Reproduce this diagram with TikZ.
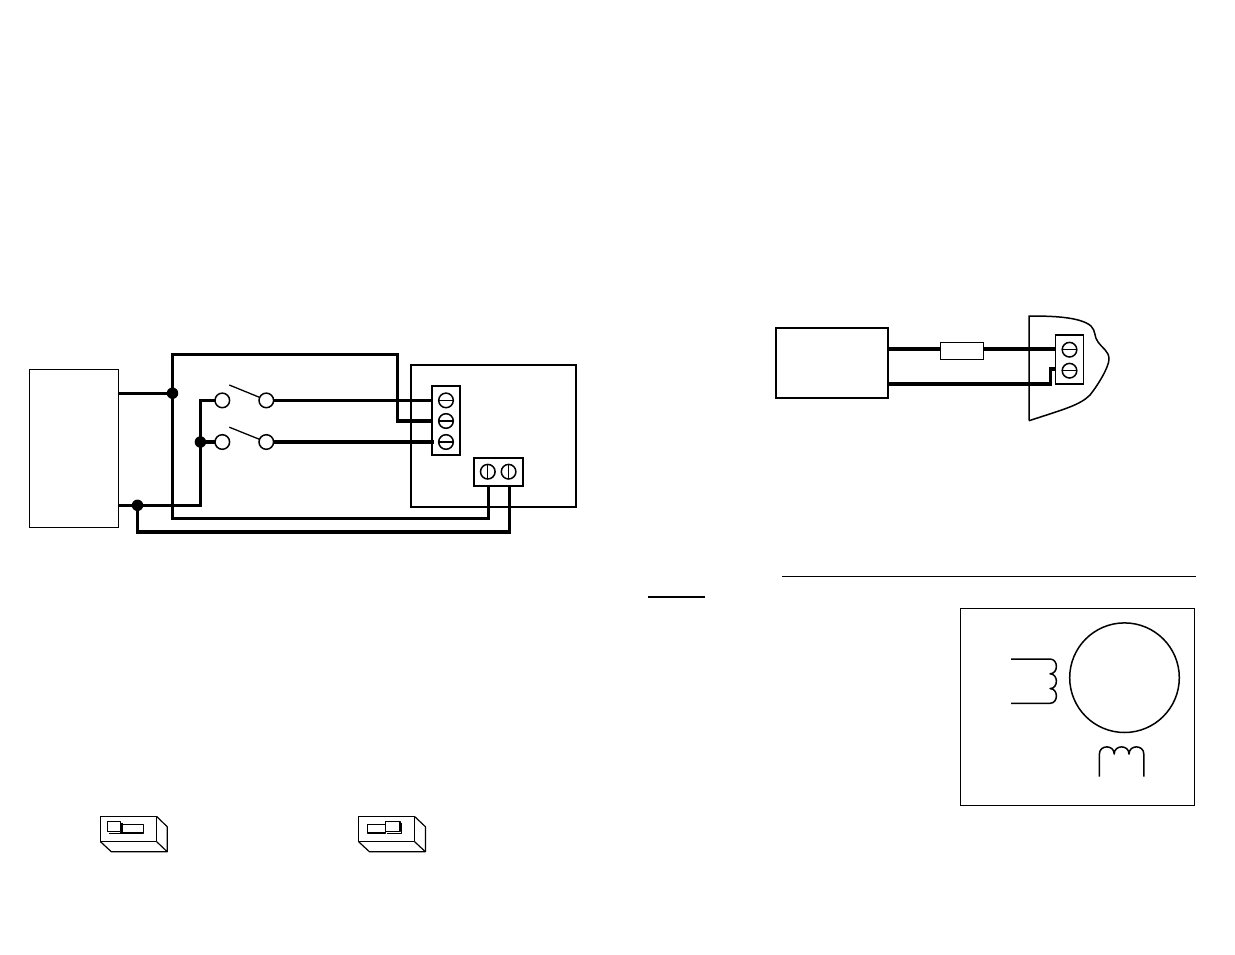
\documentclass[tikz,border=0pt]{standalone}
\begin{document}
\begin{tikzpicture}[x=1pt,y=-1pt,
  thinbox/.style={draw=black,fill=white,rectangle,inner sep=0pt,outer sep=0pt,line width=1.4pt},
  heavybox/.style={thinbox,line width=2.1pt},
  screw/.style={draw=black,fill=white,circle,inner sep=0pt,outer sep=0pt,minimum size=14.6pt,line width=1.5pt},
  joint/.style={fill=black,circle,inner sep=0pt,outer sep=0pt,minimum size=11.5pt},
  wire/.style={draw=black,line width=3.3pt,line join=miter},
  fatwire/.style={draw=black,line width=3.8pt,line join=miter},
  thin line/.style={draw=black,line width=1.3pt},
  coil/.style={draw=black,line width=1.5pt,line join=round},
  outline/.style={draw=black,line width=1.5pt,line join=miter}]
\useasboundingbox (0,0) rectangle (1235,954);
\fill[white] (0,0) rectangle (1235,954);

% --- left wiring diagram: boxes
\node[thinbox,minimum width=89pt,minimum height=158pt] (supply) at (74,448.4) {};
\node[thinbox,line width=1.9pt,minimum width=165.6pt,minimum height=142.3pt] (board) at (493.6,435.9) {};

% coordinates
\coordinate (tl) at (172.5,354.5);
\coordinate (tr) at (397.2,354.5);
\coordinate (d1) at (172.5,393.2);
\coordinate (d2) at (137.5,505.3);
\coordinate (d3) at (200.4,442);
\coordinate (s1a) at (222.3,400.4);
\coordinate (s1b) at (266.3,400.4);
\coordinate (s2a) at (222.3,442);
\coordinate (s2b) at (266.3,442);
\coordinate (t1) at (446,400.4);
\coordinate (t2) at (446,421);
\coordinate (t3) at (446,442);
\coordinate (u1) at (487.8,471.7);
\coordinate (u2) at (508.6,471.7);

% wires
\draw[wire] (118.7,393.2) -- (d1);
\draw[wire] (118.7,505.3) -- (d2) -- (200.4,505.3) |- (s1a);
\draw[wire] (d3) -- (s2a);
\draw[wire] (488.3,486) -- (488.3,518.3) -- (172.5,518.3) -- (tl) -- (tr) |- (432,421);
\draw[wire] (d2) |- (509.6,532) -- (509.6,486);
\draw[wire] (s1b) -- (432,400.4);

% junctions and switches
\node[joint] (j1) at (d1) {};
\node[joint] (j2) at (d2) {};
\node[joint] (j3) at (d3) {};
\node[screw] (sw1a) at (s1a) {};
\node[screw] (sw1b) at (s1b) {};
\node[screw] (sw2a) at (s2a) {};
\node[screw] (sw2b) at (s2b) {};
\draw[thin line] (229.3,385) -- (259.2,397.2);
\draw[thin line] (229.3,427.2) -- (259.2,439.2);

% terminal blocks
\node[thinbox,line width=1.9pt,minimum width=28.3pt,minimum height=69.6pt] (tb3) at (446.1,420.5) {};
\node[thinbox,line width=1.9pt,minimum width=49.3pt,minimum height=28pt] (tb2) at (498.4,471.7) {};
\draw[wire] (sw2b.east) -- (434,442);
\foreach \n/\p in {a/t1,b/t2,c/t3}{
  \node[screw] (scr\n) at (\p) {};
  \draw[line width=1.1pt] (scr\n.west) -- (scr\n.east);
}
\foreach \n/\p in {d/u1,e/u2}{
  \node[screw] (scr\n) at (\p) {};
  \draw[line width=1.1pt] (scr\n.north) -- (scr\n.south);
}

% --- DIP switches
\begin{scope}[line width=1.2pt,line join=round]
\draw (100.5,816.5) rectangle (156.7,841.7);
\draw (156.7,816.5) -- (167.2,826.7) -- (167.2,851.7) -- (111.3,851.7) -- (100.5,841.7);
\draw (156.7,841.7) -- (167.2,851.7);
\draw (120.7,824.3) rectangle (143.7,833);
\draw[line width=1.6pt] (122,822.5) -- (122,833.6) -- (108.5,833.6);
\draw[fill=white] (107.5,821.5) rectangle (120.7,831.7);

\draw (358.6,816.5) rectangle (414.6,841.7);
\draw (414.6,816.5) -- (425.4,826.7) -- (425.4,851.7) -- (369.4,851.7) -- (358.6,841.7);
\draw (414.6,841.7) -- (425.4,851.7);
\draw (367.5,824.3) rectangle (385.7,833);
\draw[line width=1.6pt] (401.5,822.5) -- (401.5,833.6) -- (387,833.6);
\draw[fill=white] (385.7,821.5) rectangle (400,831.7);
\end{scope}

% --- top right diagram
\node[heavybox,minimum width=112.6pt,minimum height=70.3pt] (src) at (832,362.9) {};
\draw[outline] (1029,420.7) -- (1029,316)
  .. controls (1050,316) and (1080,316.5) .. (1091,326)
  .. controls (1096,331) and (1094,337) .. (1098,342)
  .. controls (1102,348) and (1109,351) .. (1109,359)
  .. controls (1109,367) and (1098,385) .. (1090,395)
  .. controls (1080,405) and (1065,409) .. (1029,420.7);
\node[thinbox,minimum width=43pt,minimum height=17pt] (fuse) at (961.8,350.8) {};
\node[thinbox,minimum width=28pt,minimum height=49pt] (tb1) at (1069.5,359.5) {};
\coordinate (w1) at (888.3,349);
\coordinate (w2) at (888.3,384.2);
\draw[fatwire] (w1) -- (fuse.west |- w1);
\draw[fatwire] (fuse.east |- w1) -- (tb1.west |- w1);
\draw[fatwire] (w2) -- (1050.5,384.2) -- (1050.5,369) -- (tb1.west |- 0,369);
\node[screw] (sca) at (1069.5,349.7) {};
\draw[line width=1.1pt] (sca.west) -- (sca.east);
\node[screw] (scb) at (1069.5,370.7) {};
\draw[line width=1.1pt] (scb.west) -- (scb.east);

% --- rules
\draw[line width=1.1pt] (782,576.4) -- (1196,576.4);
\draw[line width=1.8pt] (648,597) -- (705,597);

% --- motor diagram
\node[thinbox,minimum width=234pt,minimum height=196.6pt] (motorbox) at (1077.6,706.9) {};
\node[draw=black,circle,inner sep=0pt,outer sep=0pt,minimum size=109.6pt,line width=1.5pt] (rotor) at (1124.5,677.7) {};
\draw[coil] (1011,659) -- (1050,659)
  .. controls (1058.5,659) and (1058.5,673.8) .. (1050,673.8)
  .. controls (1058.5,673.8) and (1058.5,688.6) .. (1050,688.6)
  .. controls (1058.5,688.6) and (1058.5,703.3) .. (1050,703.3)
  -- (1011,703.3);
\draw[coil] (1099.4,776.7) -- (1099.4,754)
  .. controls (1099.4,744.5) and (1114.2,744.5) .. (1114.2,754)
  .. controls (1114.2,744.5) and (1129,744.5) .. (1129,754)
  .. controls (1129,744.5) and (1143.8,744.5) .. (1143.8,754)
  -- (1143.8,776.7);
\end{tikzpicture}
\end{document}
